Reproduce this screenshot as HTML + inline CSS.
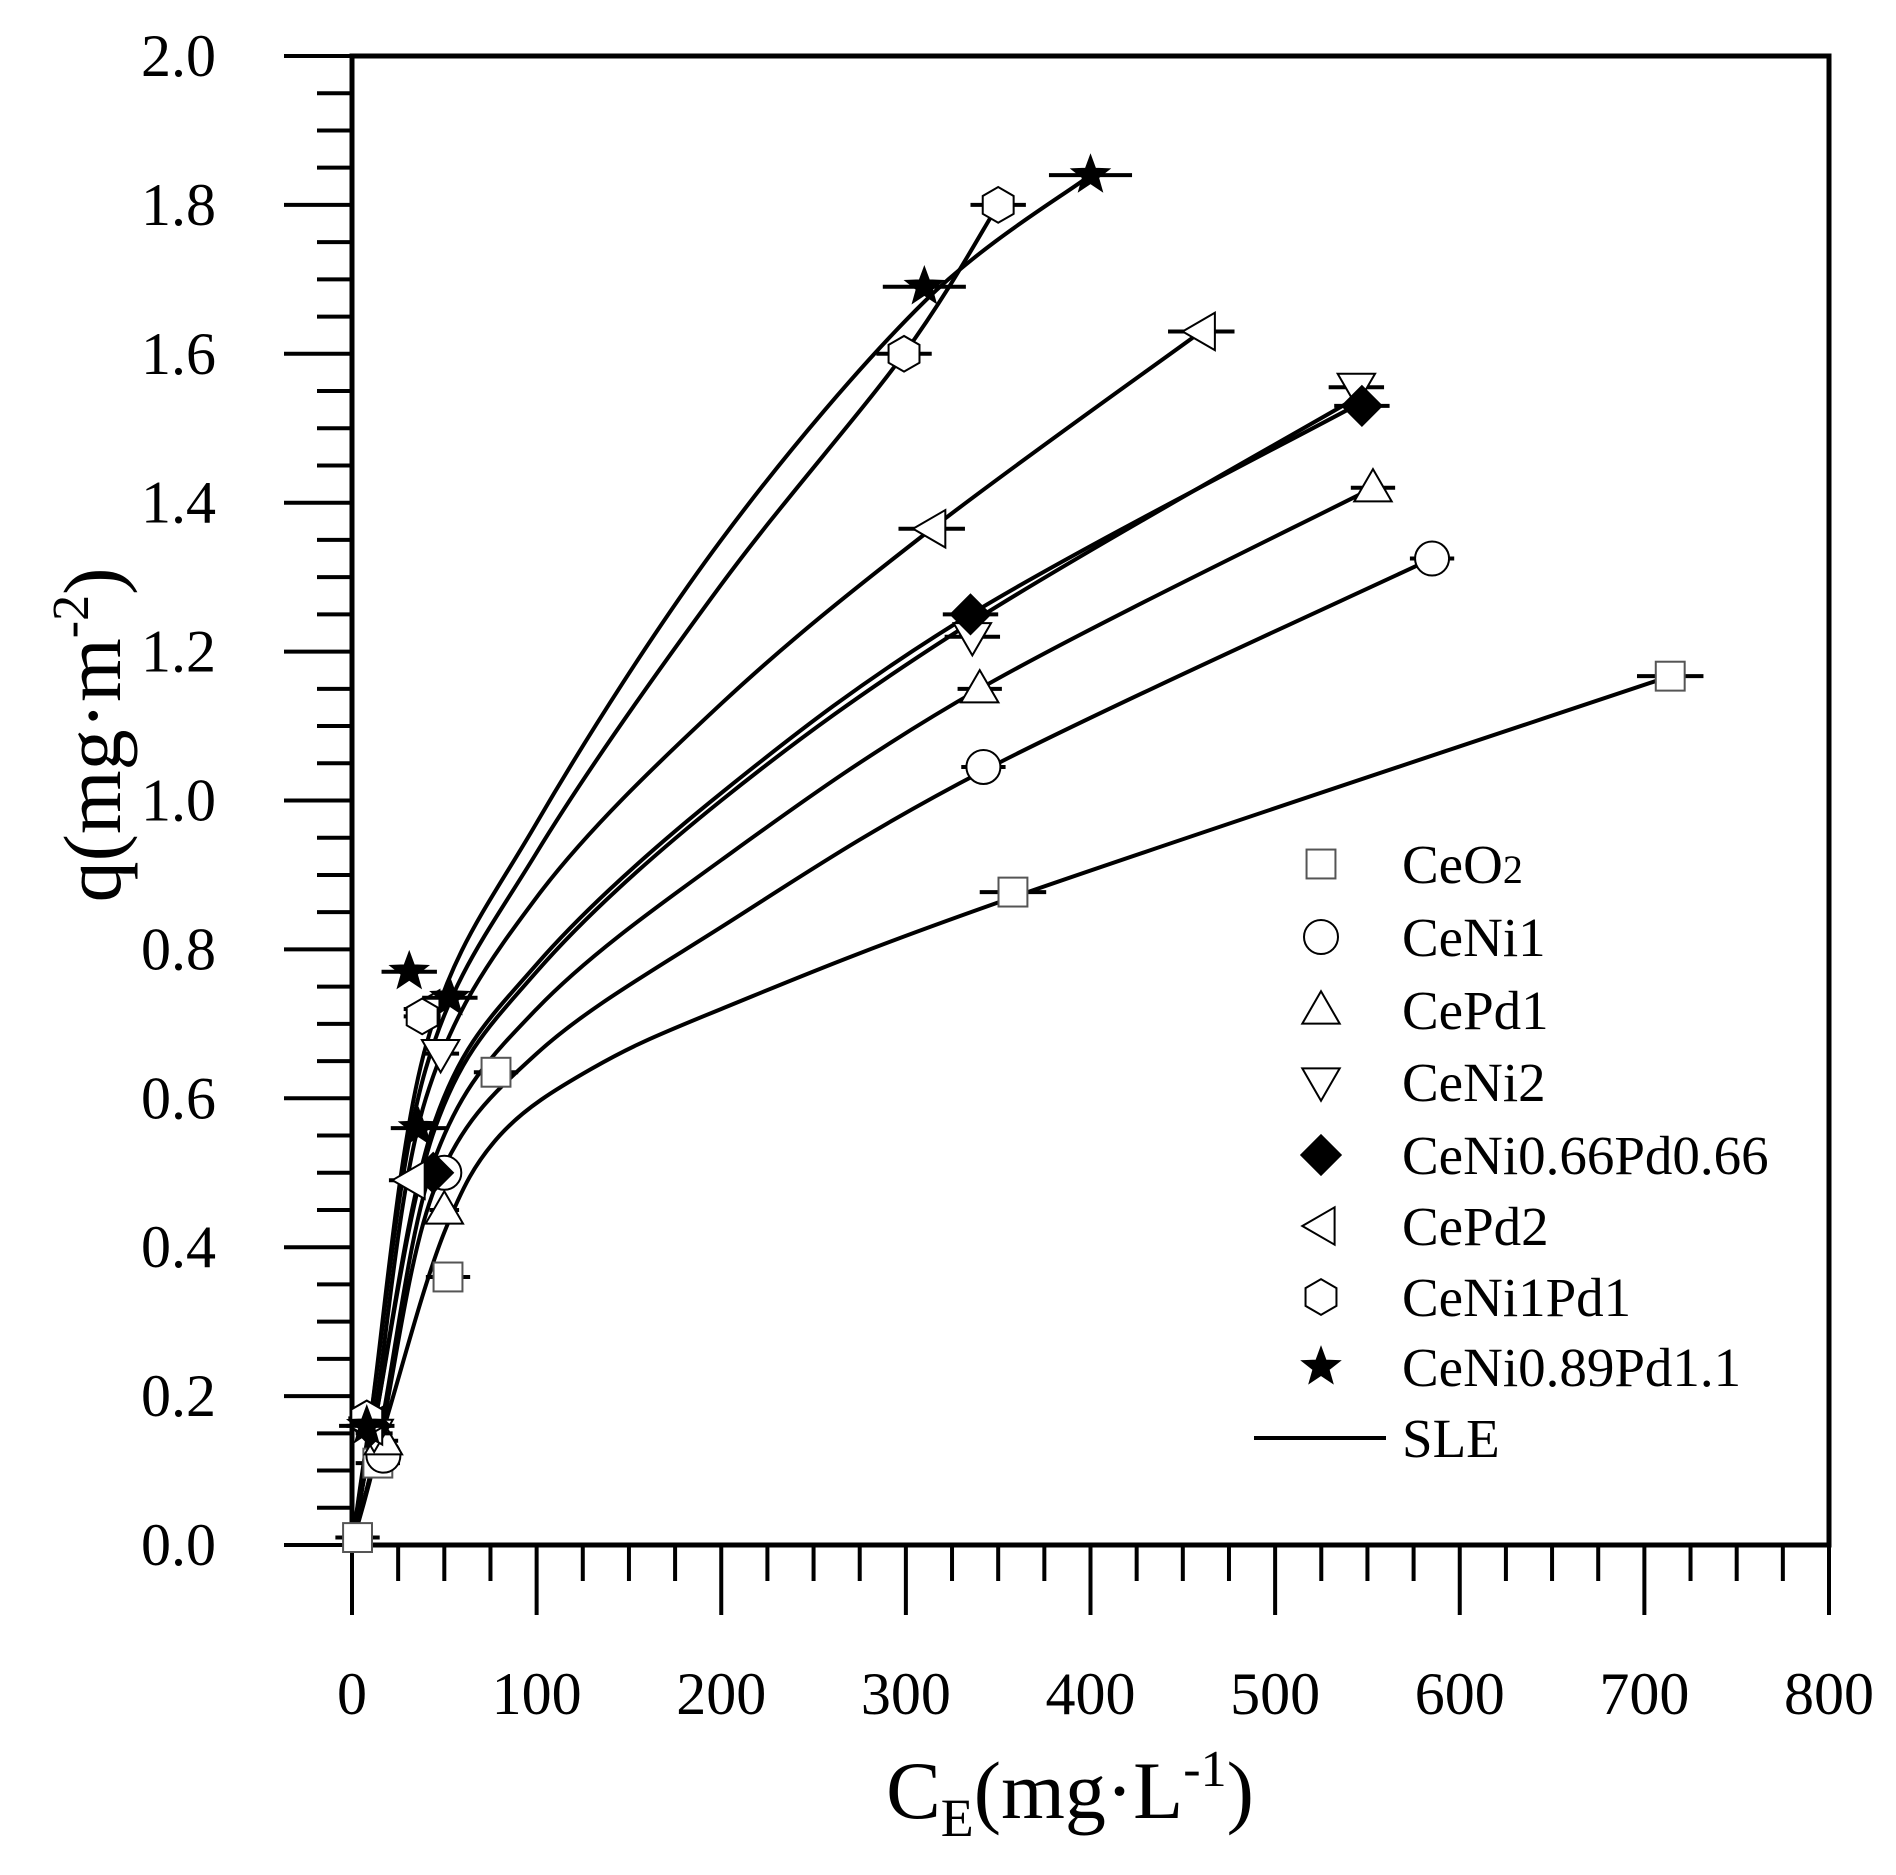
<!DOCTYPE html>
<html><head><meta charset="utf-8"><style>
body{margin:0;background:#fff}
svg{display:block}
text{font-family:"Liberation Serif",serif;fill:#000}
</style></head><body>
<svg id="chart" width="1896" height="1875" viewBox="0 0 1896 1875" xmlns="http://www.w3.org/2000/svg">
<g id="axes"></g>
<g id="curves"></g>
<g id="points"></g>
<g id="legend"></g>
</svg>
<script>
const xTicks=[0,100,200,300,400,500,600,700,800];
const yTicks=[0.0,0.2,0.4,0.6,0.8,1.0,1.2,1.4,1.6,1.8,2.0];
const yTickLabels=["0.0","0.2","0.4","0.6","0.8","1.0","1.2","1.4","1.6","1.8","2.0"];
const seriesNames=["CeO2","CeNi1","CePd1","CeNi2","CeNi0.66Pd0.66","CePd2","CeNi1Pd1","CeNi0.89Pd1.1"];
const seriesMarkers=["square","circle","triangle","triangle-down","diamond","triangle-left","hexagon","star"];
const ptsCeO2=[[3,0.01],[14,0.11],[52,0.36],[78,0.635],[358,0.877],[714,1.167]];
const ptsCeNi1=[[17,0.12],[50,0.5],[342,1.045],[585,1.325]];
const ptsCePd1=[[17,0.14],[50,0.45],[340,1.15],[553,1.42]];
const ptsCeNi2=[[12,0.15],[48,0.66],[336,1.22],[544,1.555]];
const ptsCeNiPd066=[[10,0.16],[44,0.5],[335,1.25],[547,1.53]];
const ptsCePd2=[[9,0.16],[32,0.49],[40,0.72],[314,1.365],[460,1.63]];
const ptsCeNi1Pd1=[[8,0.17],[38,0.71],[299,1.6],[350,1.8]];
const ptsStar=[[8,0.16],[31,0.77],[36,0.56],[53,0.735],[310,1.69],[400,1.84]];
const errX=[12,8,8,10,10,12,10,15];
const fitCeO2=[[0,0],[20,0.18],[50,0.42],[80,0.55],[130,0.64],[200,0.72],[358,0.87],[714,1.167]];
const fitCeNi1=[[0,0],[15,0.14],[45,0.48],[100,0.66],[200,0.83],[342,1.04],[585,1.325]];
const fitCePd1=[[0,0],[15,0.15],[45,0.52],[100,0.72],[200,0.92],[340,1.15],[553,1.42]];
const fitCeNi2=[[0,0],[12,0.16],[45,0.56],[100,0.77],[200,1.0],[336,1.24],[547,1.545]];
const fitCeNiPd066=[[0,0],[12,0.16],[45,0.57],[100,0.78],[200,1.01],[335,1.25],[547,1.535]];
const fitCePd2=[[0,0],[12,0.17],[40,0.6],[100,0.87],[200,1.13],[314,1.365],[460,1.63]];
const fitCeNi1Pd1=[[0,0],[10,0.17],[40,0.64],[100,0.93],[200,1.29],[299,1.6],[350,1.8]];
const fitStar=[[0,0],[10,0.17],[40,0.67],[100,0.97],[200,1.35],[310,1.67],[400,1.84]];

const allPts=[ptsCeO2,ptsCeNi1,ptsCePd1,ptsCeNi2,ptsCeNiPd066,ptsCePd2,ptsCeNi1Pd1,ptsStar];
const allFits=[fitCeO2,fitCeNi1,fitCePd1,fitCeNi2,fitCeNiPd066,fitCePd2,fitCeNi1Pd1,fitStar];

const X0=352,X1=1829,Y0=1545,Y1=56;
const sx=v=>X0+(v/800)*(X1-X0);
const sy=v=>Y0-(v/2)*(Y0-Y1);
const NS="http://www.w3.org/2000/svg";
function mk(tag,attrs,parent){const e=document.createElementNS(NS,tag);for(const k in attrs)e.setAttribute(k,attrs[k]);parent.appendChild(e);return e;}
const axes=document.getElementById('axes');
let r=mk('rect',{x:X0,y:Y1,width:X1-X0,height:Y0-Y1,fill:'none',stroke:'#000','stroke-width':5},axes);


for(let v=0;v<=800;v+=25){
 const maj=v%100===0;
 const l=mk('line',{x1:sx(v),x2:sx(v),y1:Y0,y2:Y0+(maj?70:36),stroke:'#000','stroke-width':4},axes);
 
 
}
xTicks.forEach(v=>{
 const t=mk('text',{x:sx(v),y:1714,'font-size':60,'text-anchor':'middle'},axes);t.textContent=v;
 
 
});
for(let i=0;i<=40;i++){
 const v=i*0.05;const maj=i%4===0;
 const l=mk('line',{x1:X0,x2:X0-(maj?68:35),y1:sy(v),y2:sy(v),stroke:'#000','stroke-width':4},axes);
 
 
}
yTicks.forEach((v,i)=>{
 const t=mk('text',{x:216,y:sy(v)+20,'font-size':60,'text-anchor':'end'},axes);t.textContent=yTickLabels[i];
 
 
});
let xt=mk('text',{x:1070,y:1818,'font-size':82,'text-anchor':'middle'},axes);
xt.innerHTML='C<tspan font-size="54" dy="18">E</tspan><tspan dy="-18">(mg·L</tspan><tspan font-size="52" dy="-32">-1</tspan><tspan dy="32">)</tspan>';


let yt=mk('text',{x:0,y:0,'font-size':82,'text-anchor':'middle',transform:'translate(120,735) rotate(-90)'},axes);
yt.innerHTML='q(mg·m<tspan font-size="52" dy="-32">-2</tspan><tspan dy="32">)</tspan>';



function smoothPath(pts){
 const p=pts.map(d=>[sx(d[0]),sy(d[1])]);
 let s='M'+p[0][0]+','+p[0][1];
 for(let i=0;i<p.length-1;i++){
  const p0=p[Math.max(0,i-1)],p1=p[i],p2=p[i+1],p3=p[Math.min(p.length-1,i+2)];
  const c1=[p1[0]+(p2[0]-p0[0])/6,p1[1]+(p2[1]-p0[1])/6];
  const c2=[p2[0]-(p3[0]-p1[0])/6,p2[1]-(p3[1]-p1[1])/6];
  s+=`C${c1[0]},${c1[1]} ${c2[0]},${c2[1]} ${p2[0]},${p2[1]}`;
 }
 return s;
}
const curves=document.getElementById('curves');
allFits.forEach((f,i)=>{
 const p=mk('path',{d:smoothPath(f),fill:'none',stroke:'#000','stroke-width':4},curves);
 
 
});
function marker(type,cx,cy,s,parent){
 const filled=(type==='diamond'||type==='star');
 const st={fill:filled?'#000':'#fff',stroke:'#000','stroke-width':filled?1:2};
 let pts;
 if(type==='square'){return mk('rect',Object.assign({x:cx-s*0.85,y:cy-s*0.85,width:s*1.7,height:s*1.7},st,{stroke:'#555'}),parent);}
 if(type==='circle'){return mk('circle',Object.assign({cx:cx,cy:cy,r:s},st),parent);}
 if(type==='triangle')pts=[[0,-1.1],[1.1,0.8],[-1.1,0.8]];
 if(type==='triangle-down')pts=[[0,1.1],[1.1,-0.8],[-1.1,-0.8]];
 if(type==='triangle-left')pts=[[-1.1,0],[0.8,-1.1],[0.8,1.1]];
 if(type==='diamond')pts=[[0,-1.2],[1.2,0],[0,1.2],[-1.2,0]];
 if(type==='hexagon'){pts=[];for(let k=0;k<6;k++){const a=Math.PI/6+k*Math.PI/3;pts.push([Math.cos(a)*1.05,Math.sin(a)*1.05]);}}
 if(type==='star'){pts=[];for(let k=0;k<10;k++){const a=-Math.PI/2+k*Math.PI/5;const rr=k%2?0.5:1.2;pts.push([Math.cos(a)*rr,Math.sin(a)*rr]);}}
 return mk('polygon',Object.assign({points:pts.map(q=>(cx+q[0]*s)+','+(cy+q[1]*s)).join(' ')},st),parent);
}
const pg=document.getElementById('points');
allPts.forEach((arr,i)=>{
 arr.forEach(d=>{
  const cx=sx(d[0]),cy=sy(d[1]);
  const e=mk('line',{x1:sx(d[0]-errX[i]*(d[0]>100?1.5:1)),x2:sx(d[0]+errX[i]*(d[0]>100?1.5:1)),y1:cy,y2:cy,stroke:'#000','stroke-width':4},pg);
  
  
  const m=marker(seriesMarkers[i],cx,cy,17,pg);
  
  
 });
});
const lg=document.getElementById('legend');
const legendLabels=['CeO<tspan font-size="40">2</tspan>',"CeNi1","CePd1","CeNi2","CeNi0.66Pd0.66","CePd2","CeNi1Pd1","CeNi0.89Pd1.1"];
const rowY=[864,937,1010,1082,1155,1226,1297,1367];
legendLabels.forEach((lab,i)=>{
 const m=marker(seriesMarkers[i],1321,rowY[i],17,lg);
 
 
 const t=mk('text',{x:1402,y:rowY[i]+19,'font-size':55},lg);t.innerHTML=lab;
 
 
});
const ll=mk('line',{x1:1254,x2:1386,y1:1438,y2:1438,stroke:'#000','stroke-width':4},lg);


const lt=mk('text',{x:1402,y:1457,'font-size':55},lg);lt.textContent='SLE';


</script>
</body></html>
